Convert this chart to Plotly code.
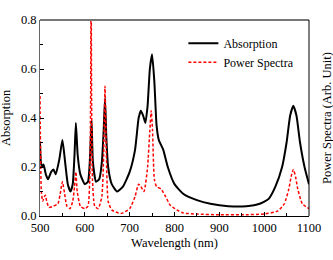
import plotly.graph_objects as go

abs_wl = [500, 502, 505, 508, 513, 518, 525, 530, 535, 543, 550, 556, 562, 568, 573, 577, 580, 584, 590, 600,
          607, 611, 615, 618, 625, 632, 638, 642, 645, 648, 652, 660, 672, 685, 700, 712, 720, 725, 730, 735,
          740, 745, 750, 755, 760, 765, 770, 775, 785, 800, 820, 850, 880, 920, 960, 990, 1010, 1025, 1040, 1050,
          1058, 1065, 1072, 1080, 1090, 1100]
abs_val = [0.30, 0.22, 0.20, 0.21, 0.17, 0.15, 0.18, 0.19, 0.17, 0.23, 0.31, 0.22, 0.13, 0.10, 0.13, 0.25, 0.38, 0.25, 0.17, 0.13,
           0.14, 0.22, 0.39, 0.22, 0.14, 0.15, 0.22, 0.35, 0.48, 0.32, 0.20, 0.13, 0.10, 0.12, 0.18, 0.27, 0.40, 0.43, 0.41, 0.38,
           0.45, 0.60, 0.66, 0.55, 0.37, 0.31, 0.29, 0.27, 0.20, 0.13, 0.09, 0.065, 0.05, 0.04, 0.04, 0.05, 0.07, 0.12, 0.20, 0.30,
           0.41, 0.45, 0.41, 0.30, 0.20, 0.13]

pow_wl = [500, 501, 503, 506, 510, 512, 515, 520, 530, 540, 545, 550, 555, 560, 567, 573, 577, 580, 583, 590,
          600, 607, 611, 613, 614, 615, 617, 622, 630, 638, 642, 645, 648, 652, 660, 680, 700, 712, 720, 725,
          732, 740, 745, 748, 751, 755, 760, 770, 780, 790, 805, 820, 850, 900, 950, 1000, 1030, 1045, 1055, 1060,
          1065, 1070, 1075, 1085, 1100]
pow_val = [0.49, 0.30, 0.10, 0.06, 0.08, 0.085, 0.06, 0.035, 0.04, 0.05, 0.09, 0.14, 0.09, 0.04, 0.03, 0.06, 0.12, 0.18, 0.10, 0.04,
           0.03, 0.04, 0.15, 0.50, 1.00, 0.50, 0.15, 0.04, 0.03, 0.08, 0.25, 0.53, 0.25, 0.06, 0.025, 0.01, 0.03, 0.08, 0.13, 0.12,
           0.10, 0.20, 0.35, 0.43, 0.35, 0.15, 0.12, 0.11, 0.08, 0.045, 0.025, 0.012, 0.008, 0.005, 0.005, 0.008, 0.02, 0.05, 0.11, 0.16,
           0.19, 0.16, 0.11, 0.05, 0.03]

FONT = "'Liberation Serif', 'Times New Roman', serif"

fig = go.Figure()
fig.add_trace(go.Scatter(x=abs_wl, y=abs_val, mode="lines", name="Absorption",
                         line=dict(color="black", width=2, shape="spline", smoothing=0.5)))
fig.add_trace(go.Scatter(x=pow_wl, y=pow_val, mode="lines", name="Power Spectra",
                         line=dict(color="#ff0000", width=1.5, dash="3px,2px", shape="spline", smoothing=0.5)))

fig.update_layout(
    width=333, height=260,
    margin=dict(l=40, r=24, t=20, b=42),
    paper_bgcolor="white", plot_bgcolor="white",
    font=dict(family=FONT, size=12, color="black"),
    showlegend=True,
    legend=dict(x=0.533, y=0.955, xanchor="left", yanchor="top", bgcolor="rgba(0,0,0,0)",
                font=dict(family=FONT, size=12), tracegroupgap=0, itemwidth=30),
    xaxis=dict(range=[500, 1100], dtick=100, tick0=500, ticks="inside", ticklen=4, tickcolor="black",
               showline=True, linecolor="black", linewidth=1, showgrid=False, zeroline=False,
               minor=dict(dtick=50, tick0=500, ticks="inside", ticklen=3, tickcolor="black"),
               title=dict(text="Wavelength (nm)", font=dict(family=FONT, size=12.5), standoff=4),
               tickfont=dict(family=FONT, size=12.5)),
    yaxis=dict(range=[0, 0.8], dtick=0.2, tick0=0, tickformat=".1f", ticks="inside", ticklen=4, tickcolor="black",
               showline=True, linecolor="#666666", linewidth=1, showgrid=False, zeroline=False,
               minor=dict(dtick=0.1, ticks="inside", ticklen=3, tickcolor="black"),
               tickfont=dict(family=FONT, size=12.5)),
)

fig.add_shape(type="line", xref="paper", yref="paper", x0=0, x1=1, y0=1, y1=1,
              line=dict(color="#777777", width=2))
fig.add_shape(type="line", xref="paper", yref="paper", x0=1, x1=1, y0=0, y1=1,
              line=dict(color="black", width=1))
fig.add_annotation(text="Absorption", xref="paper", yref="paper", x=0, y=0.5,
                   xanchor="right", yanchor="middle", xshift=-25, textangle=-90, showarrow=False,
                   font=dict(family=FONT, size=12.5, color="black"))
fig.add_annotation(text="Power Spectra (Arb. Unit)", xref="paper", yref="paper", x=1, y=0.5,
                   xanchor="left", yanchor="middle", xshift=9, textangle=-90, showarrow=False,
                   font=dict(family=FONT, size=12.5, color="black"))

fig.write_html("out.html", config={"displayModeBar": False},
               post_script="document.body.style.margin='0';")
